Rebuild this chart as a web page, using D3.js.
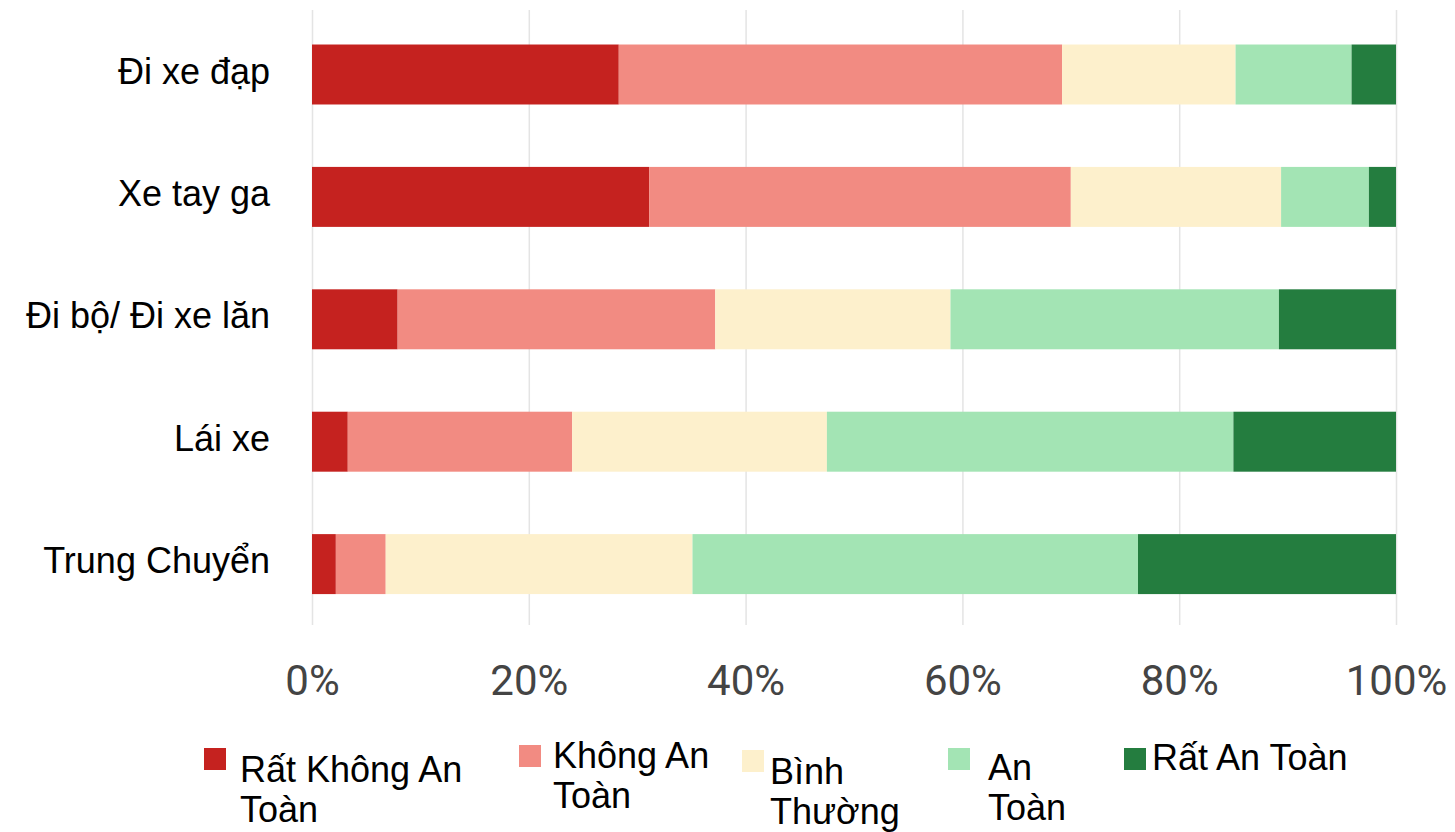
<!DOCTYPE html>
<html>
<head>
<meta charset="utf-8">
<script src="https://cdn.jsdelivr.net/npm/d3@7"></script>
<style>
  body { margin: 0; background: #fff; }
  svg { display: block; }
</style>
</head>
<body>
<script>
// data (percent of answers per mode)
const categories = ["Đi xe đạp", "Xe tay ga", "Đi bộ/ Đi xe lăn", "Lái xe", "Trung Chuyển"];
const levels = ["Rất Không An Toàn", "Không An Toàn", "Bình Thường", "An Toàn", "Rất An Toàn"];
const veryUnsafe = [28.3, 31.1, 7.9, 3.3, 2.2];
const unsafe = [40.9, 38.9, 29.3, 20.7, 4.6];
const neutral = [16.0, 19.4, 21.7, 23.5, 28.3];
const safe = [10.7, 8.1, 30.3, 37.5, 41.1];
const verySafe = [4.1, 2.5, 10.8, 15.0, 23.8];
const ticks = [0, 0.2, 0.4, 0.6, 0.8, 1];

const colors = ["#c5221f", "#f28b82", "#fdf0cc", "#a3e4b4", "#247d3f"];

const W = 1455, H = 832;

let series = [veryUnsafe, unsafe, neutral, safe, verySafe];
let rows = categories.map((c, i) => {
    let r = {cat: c};
    levels.forEach((l, j) => r[l] = series[j][i]);
    return r;
});

let svg = d3.select("body").append("svg")
    .attr("width", W).attr("height", H);

let x = d3.scaleLinear().domain([0, 1]).range([312, 1396]);
let y = d3.scaleBand().domain(categories).range([13.3, 625.3])
    .paddingInner(0.51).paddingOuter(0.255);

// grid
let grid = svg.append("g").attr("transform", "translate(0,625)")
    .call(d3.axisBottom(x).tickValues(ticks).tickSize(-615).tickFormat(""));
grid.select(".domain").remove();
grid.selectAll("line").attr("stroke", "#e4e4e4").attr("stroke-width", 1.5);

let stack = d3.stack().keys(levels).offset(d3.stackOffsetExpand);
let layers = stack(rows);

svg.append("g").selectAll("g").data(layers).enter().append("g")
    .attr("fill", (d, i) => colors[i])
    .selectAll("rect").data(d => d).enter().append("rect")
    .attr("x", d => x(d[0]))
    .attr("y", d => y(d.data.cat))
    .attr("width", d => x(d[1]) - x(d[0]))
    .attr("height", y.bandwidth());

// category labels
svg.append("g").selectAll("text").data(categories).enter().append("text")
    .text(d => d)
    .attr("x", 270)
    .attr("y", d => y(d) + y.bandwidth() / 2 + 9)
    .attr("text-anchor", "end")
    .attr("font-family", "Liberation Sans, Arial, sans-serif")
    .attr("font-size", 36)
    .attr("fill", "#000");

// percent axis
let ax = svg.append("g")
    .call(d3.axisBottom(x).tickValues(ticks).tickSize(0).tickFormat(d3.format(".0%")));
ax.select(".domain").remove();
ax.selectAll("text")
    .attr("y", 695).attr("dy", null)
    .attr("font-family", "Roboto, sans-serif")
    .attr("font-size", 42)
    .attr("fill", "#444");

// legend, hand placed like the picture
let legendPos = [
    {sx: 204, sy: 748, tx: 240, ty: 782, wrap: 240},
    {sx: 519, sy: 745, tx: 553, ty: 768, wrap: 160},
    {sx: 742, sy: 750, tx: 770, ty: 784, wrap: 110},
    {sx: 948, sy: 748, tx: 988, ty: 780, wrap: 60},
    {sx: 1124, sy: 748, tx: 1152, ty: 770, wrap: 230}
];

let leg = svg.append("g").selectAll("g").data(levels).enter().append("g");
leg.append("rect")
    .attr("x", (d, i) => legendPos[i].sx)
    .attr("y", (d, i) => legendPos[i].sy)
    .attr("width", 22).attr("height", 22)
    .attr("fill", (d, i) => colors[i]);

leg.append("text")
    .attr("font-family", "Liberation Sans, Arial, sans-serif")
    .attr("font-size", 36)
    .attr("fill", "#000")
    .each(function (d, i) {
        let p = legendPos[i];
        let t = d3.select(this);
        let words = d.split(" ");
        let line = [];
        let n = 0;
        let ts = t.append("tspan").attr("x", p.tx).attr("y", p.ty);
        words.forEach(w => {
            line.push(w);
            ts.text(line.join(" "));
            if (ts.node().getComputedTextLength() > p.wrap && line.length > 1) {
                line.pop();
                ts.text(line.join(" "));
                line = [w];
                n++;
                ts = t.append("tspan").attr("x", p.tx).attr("y", p.ty + n * 40).text(w);
            }
        });
    });
</script>
</body>
</html>
